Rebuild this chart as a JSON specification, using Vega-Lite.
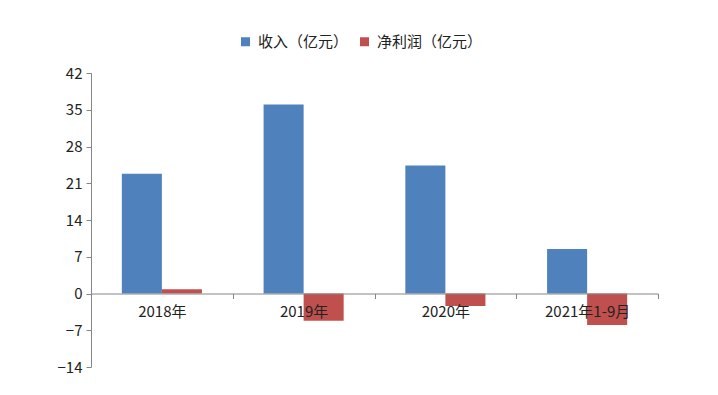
{
  "$schema": "https://vega.github.io/schema/vega-lite/v6.json",
  "width": 567,
  "height": 294,
  "autosize": {"type": "none"},
  "padding": {"left": 91, "top": 73, "right": 60, "bottom": 28},
  "background": "#ffffff",
  "config": {
    "view": {"stroke": null},
    "font": "Noto Sans CJK SC"
  },
  "data": {
    "values": [
      {"period": "2018年", "series": "收入（亿元）", "value": 22.8},
      {"period": "2018年", "series": "净利润（亿元）", "value": 0.8},
      {"period": "2019年", "series": "收入（亿元）", "value": 36.0},
      {"period": "2019年", "series": "净利润（亿元）", "value": -5.2},
      {"period": "2020年", "series": "收入（亿元）", "value": 24.4},
      {"period": "2020年", "series": "净利润（亿元）", "value": -2.4},
      {"period": "2021年1-9月", "series": "收入（亿元）", "value": 8.5},
      {"period": "2021年1-9月", "series": "净利润（亿元）", "value": -6.0}
    ]
  },
  "mark": {"type": "bar"},
  "encoding": {
    "x": {
      "field": "period",
      "type": "nominal",
      "sort": null,
      "scale": {"paddingInner": 0, "paddingOuter": 0},
      "axis": {
        "title": null,
        "labelAngle": 0,
        "offset": -73.5,
        "zindex": 1,
        "domainColor": "#868686",
        "tickColor": "#868686",
        "tickBand": "extent",
        "tickSize": 5,
        "labelFontSize": 15,
        "labelColor": "#222222",
        "labelPadding": 6,
        "labelFont": "Noto Sans CJK SC"
      }
    },
    "xOffset": {
      "field": "series",
      "type": "nominal",
      "sort": ["收入（亿元）", "净利润（亿元）"],
      "scale": {"paddingInner": 0, "paddingOuter": 0.77}
    },
    "y": {
      "field": "value",
      "type": "quantitative",
      "scale": {"domain": [-14, 42], "nice": false, "zero": true},
      "axis": {
        "title": null,
        "values": [-14, -7, 0, 7, 14, 21, 28, 35, 42],
        "grid": false,
        "domainColor": "#868686",
        "tickColor": "#868686",
        "tickSize": 5,
        "labelFontSize": 15,
        "labelColor": "#222222",
        "labelPadding": 4,
        "labelFont": "Noto Sans CJK SC"
      }
    },
    "color": {
      "field": "series",
      "type": "nominal",
      "scale": {
        "domain": ["收入（亿元）", "净利润（亿元）"],
        "range": ["#4F81BD", "#C0504D"]
      },
      "legend": {
        "title": null,
        "orient": "none",
        "direction": "horizontal",
        "legendX": 147,
        "legendY": -39,
        "symbolType": "square",
        "symbolSize": 81,
        "symbolStrokeWidth": 0,
        "symbolOpacity": 1,
        "labelFontSize": 15,
        "labelColor": "#222222",
        "labelOffset": 5,
        "columnPadding": 8,
        "labelFont": "Noto Sans CJK SC"
      }
    }
  }
}
